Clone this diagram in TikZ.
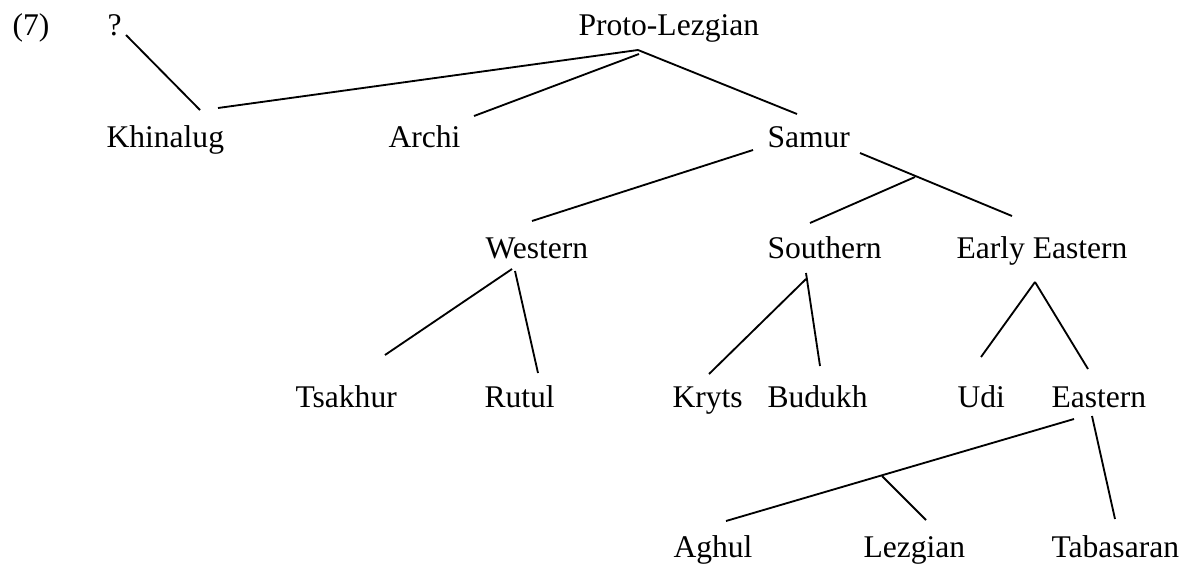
\documentclass[tikz,border=0pt]{standalone}
\usepackage{fontspec}
\setmainfont{Liberation Serif}
\usepackage{tikz}

\tikzset{
  lang/.style={anchor=base west, inner sep=0pt, font=\fontsize{12pt}{14pt}\selectfont},
  branch/.style={line width=0.7pt}
}

\begin{document}
\begin{tikzpicture}[x=0.38pt,y=-0.38pt]
    \useasboundingbox (0,0) rectangle (1187,566);
    % \draw[step=100] (0,0) grid (1187,566);

    % labels
    \node[lang] (num) at (12,35) {(7)};
    \node[lang] (unk) at (107,35) {?};
    \node[lang] (proto) at (578,35) {Proto-Lezgian};

    \node[lang] (khin) at (106,147) {Khinalug};
    \node[lang] (archi) at (388,147) {Archi};
    \node[lang] (samur) at (767,147) {Samur};

    \node[lang] (west) at (485,258) {Western};
    \node[lang] (south) at (767,258) {Southern};
    \node[lang] (eeast) at (956,258) {Early Eastern};

    \node[lang] (tsak) at (295,407) {Tsakhur};
    \node[lang] (rutul) at (484,407) {Rutul};
    \node[lang] (kryts) at (672,407) {Kryts};
    \node[lang] (bud) at (767,407) {Budukh};
    \node[lang] (udi) at (957,407) {Udi};
    \node[lang] (east) at (1051,407) {Eastern};

    \node[lang] (aghul) at (673,557) {Aghul};
    \node[lang] (lezg) at (863,557) {Lezgian};
    \node[lang] (tabas) at (1051,557) {Tabasaran};

    % branch ends
    \coordinate (unk-s) at (126,35);
    \coordinate (khin-n) at (200,110);
    \coordinate (khin-ne) at (218,108);
    \coordinate (proto-s) at (638,50);
    \coordinate (proto-s2) at (639,54);
    \coordinate (archi-n) at (474,116);
    \coordinate (samur-n) at (797,114);

    \coordinate (samur-sw) at (753,150);
    \coordinate (samur-se) at (860,153);
    \coordinate (samur-j) at (915,177);
    \coordinate (west-n) at (532,221);
    \coordinate (south-n) at (810,223);
    \coordinate (eeast-n) at (1012,216);

    \coordinate (west-s) at (512,269);
    \coordinate (west-s2) at (515,271);
    \coordinate (tsak-n) at (385,355);
    \coordinate (rutul-n) at (538,373);

    \coordinate (south-s) at (806,273);
    \coordinate (south-s2) at (806,279);
    \coordinate (kryts-n) at (709,374);
    \coordinate (bud-n) at (820,366);

    \coordinate (eeast-s) at (1035,282);
    \coordinate (udi-n) at (981,357);
    \coordinate (east-n) at (1088,369);

    \coordinate (east-sw) at (1074,419);
    \coordinate (east-se) at (1092,416);
    \coordinate (east-j) at (882,476);
    \coordinate (aghul-n) at (726,521);
    \coordinate (lezg-n) at (926,520);
    \coordinate (tabas-n) at (1115,519);

    % branches
    \draw[branch] (unk-s) -- (khin-n);
    \draw[branch] (proto-s) -- (khin-ne);
    \draw[branch] (proto-s2) -- (archi-n);
    \draw[branch] (proto-s) -- (samur-n);

    \draw[branch] (samur-sw) -- (west-n);
    \draw[branch] (samur-se) -- (eeast-n);
    \draw[branch] (samur-j) -- (south-n);

    \draw[branch] (west-s) -- (tsak-n);
    \draw[branch] (west-s2) -- (rutul-n);
    \draw[branch] (south-s2) -- (kryts-n);
    \draw[branch] (south-s) -- (bud-n);
    \draw[branch] (eeast-s) -- (udi-n);
    \draw[branch] (eeast-s) -- (east-n);

    \draw[branch] (east-sw) -- (aghul-n);
    \draw[branch] (east-j) -- (lezg-n);
    \draw[branch] (east-se) -- (tabas-n);
\end{tikzpicture}
\end{document}
